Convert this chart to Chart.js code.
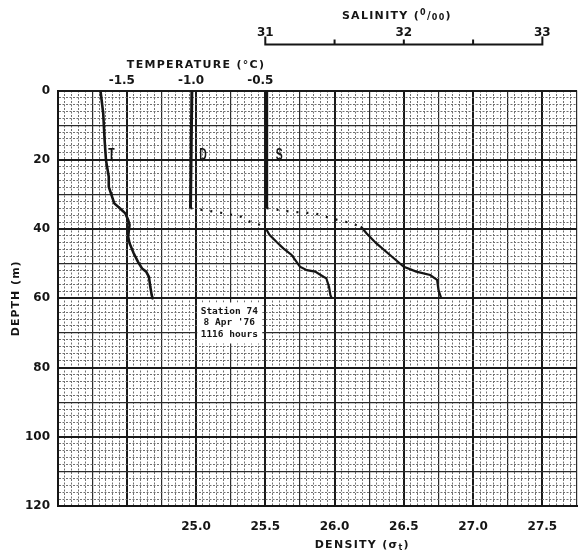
<!DOCTYPE html>
<html>
<head>
<meta charset="utf-8">
<script src="https://cdn.jsdelivr.net/npm/chart.js@4.4.0/dist/chart.umd.min.js"></script>
<style>
  html, body { margin: 0; padding: 0; background: #fff; }
</style>
</head>
<body>
<canvas id="profileChart" width="580" height="556"></canvas>
<script>
// Station 74 profiles: temperature, density and salinity against depth

const depthTicks = [0, 20, 40, 60, 80, 100, 120];
const densityTicks = [25.0, 25.5, 26.0, 26.5, 27.0, 27.5];
const temperatureTicks = [-1.5, -1.0, -0.5];
const salinityTicks = [31, 32, 33];
const salinityMarks = [31, 31.5, 32, 32.5, 33];

// T (°C)
const tempDepth = [0, 6.6, 14.3, 20.1, 24.9, 27.8, 30.2, 32.6, 34.0, 35.5, 37.4, 38.8, 42.2, 44.1, 47.0, 49.4, 51.4, 52.3, 53.8, 56.7, 59.1, 60.3];
const tempValue = [-1.69, -1.67, -1.66, -1.65, -1.63, -1.63, -1.61, -1.59, -1.55, -1.51, -1.49, -1.48, -1.49, -1.48, -1.45, -1.42, -1.39, -1.36, -1.34, -1.33, -1.32, -1.31];

// D (sigma-t)
const densDepth = [0, 34.0, 34.8, 35.8, 36.4, 37.9, 38.6, 40.3, 41.7, 43.7, 45.6, 47.5, 50.9, 51.9, 52.3, 53.8, 54.2, 56.7, 59.1, 60.0];
const densValue = [24.97, 24.96, 25.10, 25.25, 25.32, 25.39, 25.45, 25.51, 25.53, 25.58, 25.63, 25.69, 25.75, 25.80, 25.86, 25.92, 25.94, 25.96, 25.97, 25.98];
const densDotted = [34.0, 40.3];

// S (per mille)
const salDepth = [0, 34.0, 35.0, 35.5, 36.9, 37.9, 39.3, 41.2, 44.1, 47.5, 50.9, 52.3, 53.3, 54.7, 57.6, 60.0];
const salValue = [31.01, 31.01, 31.18, 31.36, 31.47, 31.58, 31.69, 31.73, 31.80, 31.90, 32.00, 32.09, 32.19, 32.24, 32.25, 32.27];
const salDotted = [34.0, 39.3];

const stationNote = ["Station 74", "8 Apr '76", "1116 hours"];

const INK = "#151515";

function toPoints(depths, values) {
  return depths.map((d, i) => ({ x: values[i], y: d }));
}

function onStep(v, step) {
  return Math.abs(v / step - Math.round(v / step)) < 1e-6;
}

// graph paper: heavy, medium and dotted minor rules
function paperGrid(major, medium) {
  return {
    grid: {
      drawTicks: false,
      color: c => onStep(c.tick.value, major) ? "#1a1a1a" : onStep(c.tick.value, medium) ? "#2b2b2b" : "#707070",
      lineWidth: c => onStep(c.tick.value, major) ? 2 : onStep(c.tick.value, medium) ? 1.2 : 1
    },
    border: {
      display: true,
      color: INK,
      width: 2,
      dash: c => (c.tick && !onStep(c.tick.value, medium)) ? [2, 1.5] : []
    }
  };
}

function dottedBetween(range) {
  return c => (c.p0.parsed.y >= range[0] - 1e-6 && c.p1.parsed.y <= range[1] + 1e-6) ? [2, 8] : undefined;
}

// keep tick label padding from eating into the plot width
function noSidePadding(s) {
  s.paddingLeft = 0;
  s.paddingRight = 0;
}

function drawParts(ctx, parts, cx, cy) {
  let total = 0;
  parts.forEach(p => {
    ctx.font = `bold ${p.size}px "DejaVu Sans"`;
    p.w = ctx.measureText(p.text).width;
    total += p.w;
  });
  let x = cx - total / 2;
  ctx.textAlign = "left";
  ctx.textBaseline = "middle";
  parts.forEach(p => {
    ctx.font = `bold ${p.size}px "DejaVu Sans"`;
    ctx.fillText(p.text, x, cy + (p.dy || 0));
    x += p.w;
  });
}

const paperLabels = {
  id: "paperLabels",
  beforeDraw(chart) {
    const ctx = chart.ctx;
    ctx.save();
    ctx.fillStyle = "#fff";
    ctx.fillRect(0, 0, chart.width, chart.height);
    ctx.restore();
  },
  afterDatasetsDraw(chart) {
    const { ctx, scales } = chart;
    const { x, y, xT, xS } = scales;

    // station note
    ctx.save();
    const bx = x.getPixelForValue(25.24), by = y.getPixelForValue(67);
    ctx.fillStyle = "#fff";
    ctx.fillRect(bx - 32, by - 20, 65, 41);
    ctx.fillStyle = INK;
    ctx.font = 'bold 9.5px "DejaVu Sans Mono"';
    ctx.textAlign = "center";
    ctx.textBaseline = "middle";
    stationNote.forEach((line, i) => ctx.fillText(line, bx, by - 11 + i * 11.5));
    ctx.restore();

    // curve letters
    ctx.save();
    ctx.fillStyle = INK;
    ctx.font = 'bold 16px "Liberation Sans"';
    ctx.textAlign = "center";
    ctx.textBaseline = "middle";
    const ly = y.getPixelForValue(18.8);
    [["T", xT.getPixelForValue(-1.61)], ["D", x.getPixelForValue(25.05)], ["S", xS.getPixelForValue(31.1)]].forEach(([t, px]) => {
      ctx.save();
      ctx.translate(px, ly);
      ctx.scale(0.65, 1);
      ctx.fillText(t, 0, 0);
      ctx.restore();
    });
    ctx.restore();
  },
  afterDraw(chart) {
    const { ctx, scales } = chart;
    const { x, y, xT, xS } = scales;
    ctx.save();
    ctx.fillStyle = INK;
    ctx.strokeStyle = INK;

    // salinity scale bracket
    const lineY = 44.5;
    ctx.lineWidth = 2;
    ctx.beginPath();
    ctx.moveTo(xS.getPixelForValue(31), lineY);
    ctx.lineTo(xS.getPixelForValue(33), lineY);
    salinityMarks.forEach(v => {
      const px = xS.getPixelForValue(v);
      const end = v === salinityMarks[0] || v === salinityMarks[salinityMarks.length - 1];
      ctx.moveTo(px, lineY + 1);
      ctx.lineTo(px, lineY - (end ? 8 : 5));
    });
    ctx.stroke();

    ctx.font = 'bold 12px "DejaVu Sans"';
    ctx.textAlign = "center";
    ctx.textBaseline = "middle";
    salinityTicks.forEach(v => ctx.fillText(String(v), xS.getPixelForValue(v), 33));

    ctx.letterSpacing = "1.3px";
    drawParts(ctx, [
      { text: "SALINITY (", size: 11 },
      { text: "0", size: 8, dy: -3 },
      { text: "/", size: 10 },
      { text: "00", size: 8, dy: 2 },
      { text: ")", size: 11 }
    ], xS.getPixelForValue(31.95), 16);

    drawParts(ctx, [{ text: "TEMPERATURE (°C)", size: 11 }], xT.getPixelForValue(-1.0), 65);

    drawParts(ctx, [
      { text: "DENSITY (σ", size: 11 },
      { text: "t", size: 8, dy: 3 },
      { text: ")", size: 11 }
    ], x.getPixelForValue(26.2), 545);

    ctx.save();
    ctx.translate(16.5, y.getPixelForValue(60));
    ctx.rotate(-Math.PI / 2);
    ctx.letterSpacing = "1px";
    drawParts(ctx, [{ text: "DEPTH (m)", size: 11 }], 0, 0);
    ctx.restore();

    ctx.restore();
  }
};

const tickFont = { family: "DejaVu Sans", weight: "bold", size: 12 };

new Chart(document.getElementById("profileChart"), {
  type: "line",
  data: {
    datasets: [
      {
        label: "Temperature",
        data: toPoints(tempDepth, tempValue),
        xAxisID: "xT",
        yAxisID: "y",
        borderColor: INK,
        borderWidth: 2.6,
        pointRadius: 0,
        fill: false
      },
      {
        label: "Density",
        data: toPoints(densDepth, densValue),
        xAxisID: "x",
        yAxisID: "y",
        borderColor: INK,
        borderWidth: 2.2,
        pointRadius: 0,
        fill: false,
        segment: {
          borderDash: dottedBetween(densDotted),
          borderWidth: c => c.p1.parsed.y <= densDotted[0] + 1e-6 ? 3 : undefined
        }
      },
      {
        label: "Salinity",
        data: toPoints(salDepth, salValue),
        xAxisID: "xS",
        yAxisID: "y",
        borderColor: INK,
        borderWidth: 2.2,
        pointRadius: 0,
        fill: false,
        segment: {
          borderDash: dottedBetween(salDotted),
          borderWidth: c => c.p1.parsed.y <= salDotted[0] + 1e-6 ? 3 : undefined
        }
      }
    ]
  },
  options: {
    responsive: false,
    animation: false,
    devicePixelRatio: 1,
    layout: { padding: { left: 0, right: 3, top: 0, bottom: 0 } },
    plugins: {
      legend: { display: false },
      tooltip: { enabled: false }
    },
    scales: {
      x: {
        type: "linear",
        position: "bottom",
        min: 24,
        max: 27.75,
        afterFit: s => { s.height = 50; noSidePadding(s); },
        ticks: {
          stepSize: 0.05,
          autoSkip: false,
          maxRotation: 0,
          minRotation: 0,
          padding: 13.5,
          color: INK,
          font: tickFont,
          callback: v => densityTicks.some(t => Math.abs(t - v) < 1e-6) ? v.toFixed(1) : ""
        },
        ...paperGrid(0.5, 0.25)
      },
      y: {
        type: "linear",
        position: "left",
        reverse: true,
        min: 0,
        max: 120,
        afterFit: s => { s.width = 57.5; },
        ticks: {
          stepSize: 2,
          autoSkip: false,
          padding: 7.5,
          color: INK,
          font: tickFont,
          callback: v => depthTicks.includes(v) ? String(v) : ""
        },
        ...paperGrid(20, 10)
      },
      xT: {
        type: "linear",
        position: "top",
        min: -2,
        max: 1.75,
        afterFit: s => { s.height = 90.5; noSidePadding(s); },
        grid: { display: false, drawTicks: false },
        border: { display: false },
        ticks: {
          stepSize: 0.5,
          autoSkip: false,
          maxRotation: 0,
          minRotation: 0,
          padding: 2.5,
          labelOffset: -5,
          color: INK,
          font: tickFont,
          callback: v => temperatureTicks.some(t => Math.abs(t - v) < 1e-6) ? v.toFixed(1) : ""
        }
      },
      xS: {
        type: "linear",
        position: "top",
        display: false,
        min: 29.5,
        max: 33.25
      }
    }
  },
  plugins: [paperLabels]
});
</script>
</body>
</html>
